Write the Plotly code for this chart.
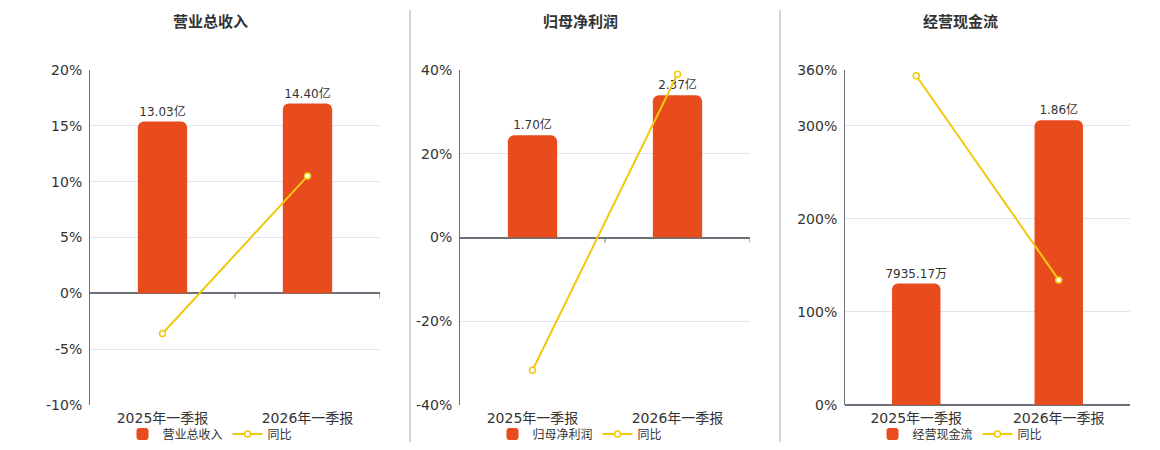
import plotly.graph_objects as go

# 数据
categories = ["2025年一季报", "2026年一季报"]

titles = ["营业总收入", "归母净利润", "经营现金流"]
bar_values = [
    [13.03, 14.40],     # 亿
    [1.70, 2.37],
    [0.793517, 1.86],
]
bar_labels = [
    ["13.03亿", "14.40亿"],
    ["1.70亿", "2.37亿"],
    ["7935.17万", "1.86亿"],
]
yoy_values = [
    [-3.6, 10.5],
    [-31.7, 39.0],
    [353.8, 134.4],
]
pct_ranges = [[-10, 20], [-40, 40], [0, 360]]
pct_ticks = [
    [-10, -5, 0, 5, 10, 15, 20],
    [-40, -20, 0, 20, 40],
    [0, 100, 200, 300, 360],
]

BAR_COLOR = "#e84c1d"
LINE_COLOR = "#f2c80f"
TEXT_COLOR = "#333333"
AXIS_COLOR = "#6e7079"
GRID_COLOR = "#e0e6f1"
FONT = "DejaVu Sans, Noto Sans CJK SC, sans-serif"

# 页面 body 有 8px 边距，图表尺寸与坐标均按此换算
OFF = 8
W, H = 1160 - 2 * OFF, 450 - 2 * OFF
# 每个面板的绘图区（截图像素）与标题/图例中心
plot_px = [(90, 380), (460, 750), (845, 1130)]
center_px = [210, 580, 960]
top_px, bottom_px = 70, 405


def px_x(v):
    return (v - OFF) / W


def px_y(v):
    return 1 - (v - OFF) / H


fig = go.Figure()
layout = dict(
    width=W, height=H,
    margin=dict(l=0, r=0, t=0, b=0, autoexpand=False),
    paper_bgcolor="white", plot_bgcolor="white",
    font=dict(family=FONT, color=TEXT_COLOR),
    barcornerradius=6,
    shapes=[], annotations=[],
)

for i in range(3):
    n = i + 1
    xa = "x" if n == 1 else f"x{n}"
    ybar = f"y{2 * n - 1}" if n > 1 else "y"
    ypct = f"y{2 * n}"
    leg = "legend" if n == 1 else f"legend{n}"

    x0, x1 = plot_px[i]
    dom_x = [px_x(x0), px_x(x1)]
    dom_y = [px_y(bottom_px), px_y(top_px)]

    lo, hi = pct_ranges[i]
    bar_hi = max(bar_values[i]) / 0.85
    bar_lo = bar_hi * lo / hi

    fig.add_trace(go.Bar(
        x=categories, y=bar_values[i], name=titles[i],
        xaxis=xa, yaxis=ybar, legend=leg,
        marker=dict(color=BAR_COLOR, line=dict(width=0)),
        width=0.34,
        text=bar_labels[i], textposition="outside", constraintext="none",
        textfont=dict(size=12, color=TEXT_COLOR),
        cliponaxis=False, hoverinfo="skip",
    ))
    fig.add_trace(go.Scatter(
        x=categories, y=yoy_values[i], name="同比",
        xaxis=xa, yaxis=ypct, legend=leg,
        mode="lines+markers",
        line=dict(color=LINE_COLOR, width=2),
        marker=dict(size=6, color="white", line=dict(color=LINE_COLOR, width=1.5)),
        cliponaxis=False,
    ))

    xkey = "xaxis" if n == 1 else f"xaxis{n}"
    ybkey = "yaxis" if n == 1 else f"yaxis{2 * n - 1}"
    ypkey = f"yaxis{2 * n}"

    layout[xkey] = dict(
        domain=dom_x, anchor=ybar, type="category",
        range=[-0.5, 1.5], showgrid=False, showline=False, ticks="",
        ticklabelstandoff=3,
        tickfont=dict(size=14, color=TEXT_COLOR), fixedrange=True,
    )
    layout[ybkey] = dict(
        domain=dom_y, anchor=xa, range=[bar_lo, bar_hi],
        visible=False, fixedrange=True,
    )
    layout[ypkey] = dict(
        overlaying=ybar, anchor=xa, side="left", range=[lo, hi],
        tickvals=pct_ticks[i], ticktext=[f"{v}%" for v in pct_ticks[i]],
        showgrid=True, gridcolor=GRID_COLOR, gridwidth=1,
        showline=True, linecolor=AXIS_COLOR, linewidth=1,
        zeroline=True, zerolinecolor=AXIS_COLOR, zerolinewidth=2,
        ticks="", ticklabelstandoff=4,
        tickfont=dict(size=14, color=TEXT_COLOR), fixedrange=True,
    )

    # 零线上的刻度
    for xv in [0.5, 1.5]:
        layout["shapes"].append(dict(
            type="line", xref=xa, yref=ypct, x0=xv, x1=xv,
            ysizemode="pixel", yanchor=0, y0=0, y1=-5,
            line=dict(color=AXIS_COLOR, width=1),
        ))

    layout["annotations"].append(dict(
        text=f"<b>{titles[i]}</b>", xref="paper", yref="paper",
        x=px_x(center_px[i]), y=px_y(22), xanchor="center", yanchor="middle",
        showarrow=False, font=dict(size=15, color=TEXT_COLOR),
    ))

    layout[leg] = dict(
        orientation="h", xref="paper", yref="paper",
        x=px_x(center_px[i]), y=px_y(434), xanchor="center", yanchor="middle",
        font=dict(size=12, color=TEXT_COLOR), bgcolor="rgba(0,0,0,0)",
        itemclick=False, itemdoubleclick=False,
    )

# 面板之间的分隔线
for xs in [410, 780]:
    layout["shapes"].append(dict(
        type="line", xref="paper", yref="paper",
        x0=px_x(xs), x1=px_x(xs), y0=px_y(445), y1=px_y(10),
        line=dict(color="#aaaaaa", width=1),
    ))

fig.update_layout(**layout)
fig.write_html("out.html")
